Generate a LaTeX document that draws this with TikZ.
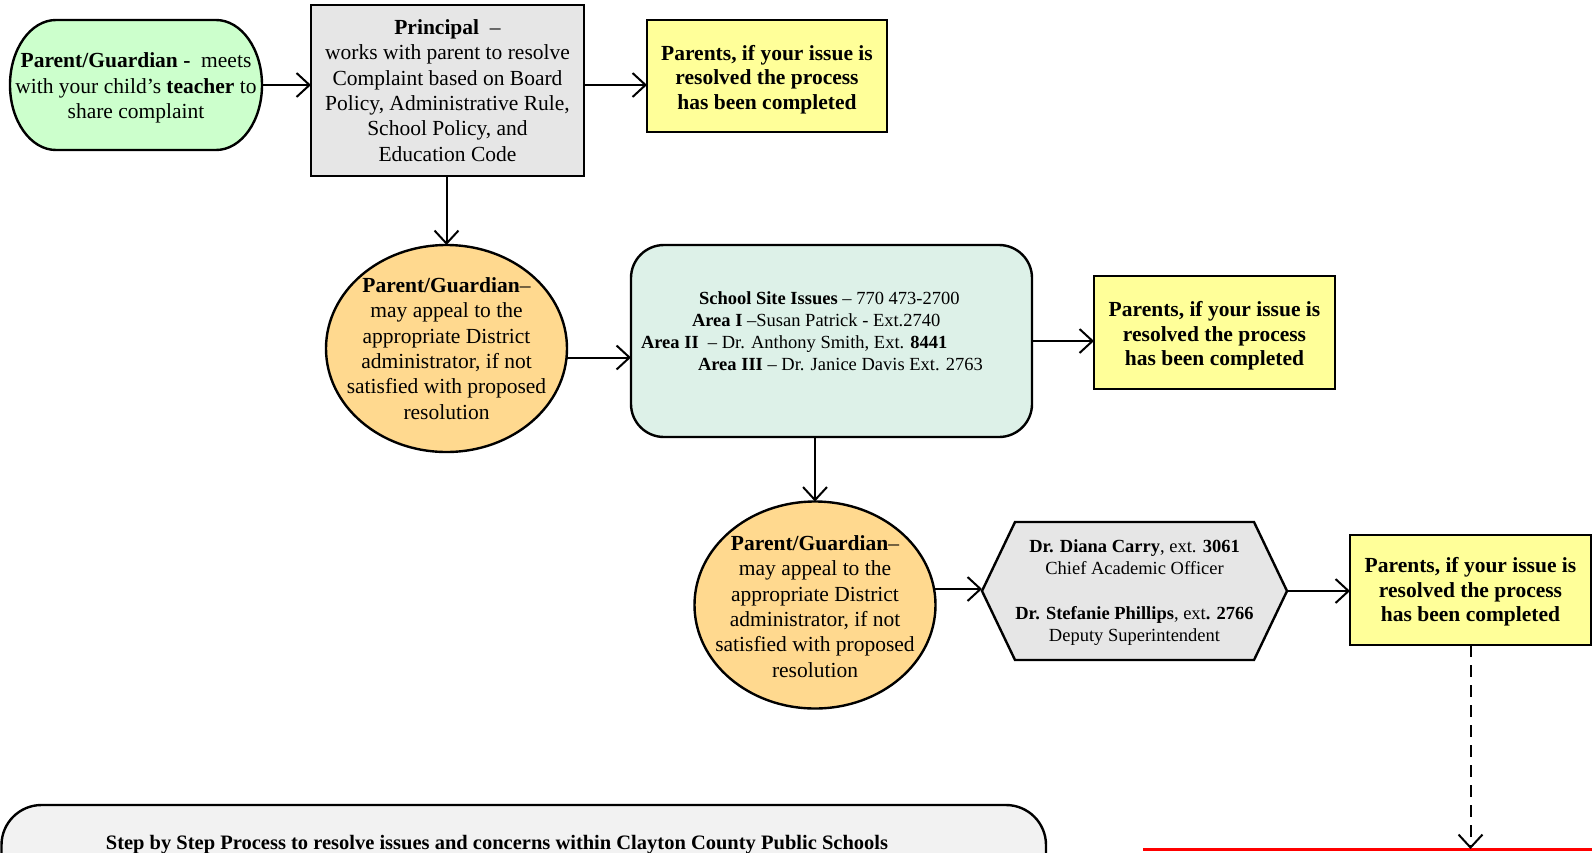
\documentclass[tikz,border=0pt]{standalone}
\usepackage{fontspec}
\setmainfont{Liberation Serif}
\usetikzlibrary{arrows.meta,calc,shapes.geometric,backgrounds}
\definecolor{gfill}{HTML}{CCFFCC}
\definecolor{pfill}{HTML}{E6E6E6}
\definecolor{yfill}{HTML}{FFFF99}
\definecolor{ofill}{HTML}{FFD98F}
\definecolor{tfill}{HTML}{DDF1E8}
\definecolor{bfill}{HTML}{F2F2F2}
\definecolor{redline}{HTML}{FF0000}
\newcommand{\ydown}{\rule{0pt}{22pt}}
\begin{document}
\begin{tikzpicture}[x=1pt,y=-1pt,
  every node/.style={inner sep=0pt, outer sep=0pt},
  border/.style={draw=black, line width=2.4pt},
  mainfont/.style={font=\fontsize{21.5}{25.3}\selectfont, align=center},
  yfont/.style={font=\fontsize{21.5}{24.4}\selectfont\bfseries, align=center},
  smallfont/.style={font=\fontsize{18.5}{22}\selectfont},
  ybox/.style={border, fill=yfill, minimum width=240pt, minimum height=112pt, yfont},
  oval/.style={ellipse, border, fill=ofill, minimum width=241pt, minimum height=207pt},
  arr/.style={line width=2pt, -{Straight Barb[length=13pt,width=24pt,line width=2pt]}},
  dasharr/.style={arr, dash pattern=on 12pt off 8pt},
]
\useasboundingbox (0,0) rectangle (1592,852);
\clip (0,0) rectangle (1592,852);

% green start
\node[minimum width=252pt, minimum height=130pt] (g) at (136,85) {};
\node[mainfont] (gt) at (136,88)
  {\textbf{Parent/Guardian -}\ \ meets\\with your child’s \textbf{teacher} to\\share complaint};
\begin{scope}[on background layer]
\draw[border, fill=gfill] ($(g.north west)+(46,0)$) -- ($(g.north east)+(-46,0)$)
  arc[start angle=90, end angle=-90, x radius=46pt, y radius=65pt]
  -- ($(g.south west)+(46,0)$)
  arc[start angle=270, end angle=90, x radius=46pt, y radius=65pt] -- cycle;
\end{scope}

% principal
\node[border, fill=pfill, minimum width=273pt, minimum height=171pt, mainfont] (p) at (447.5,90.5)
  {\textbf{Principal}\ \ –\\works with parent to resolve\\Complaint based on Board\\Policy, Administrative Rule,\\School Policy, and\\Education Code};

% yellow boxes
\node[ybox] (y1) at (767,76) {\ydown Parents, if your issue is\\resolved the process\\has been completed};
\node[ybox, minimum width=241pt, minimum height=113pt] (y2) at (1214.5,332.5) {\ydown Parents, if your issue is\\resolved the process\\has been completed};
\node[ybox, minimum width=241pt, minimum height=110pt] (y3) at (1470.5,590) {\rule{0pt}{19pt}Parents, if your issue is\\resolved the process\\has been completed};

% ellipses
\node[oval] (e1) at (446.5,348.5) {};
\node[mainfont] (e1t) at (e1.center) {\textbf{Parent/Guardian}–\\may appeal to the\\appropriate District\\administrator, if not\\satisfied with proposed\\resolution};
\node[oval] (e2) at (815,605) {};
\node[mainfont] (e2t) at ($(e2.center)+(0,1.5)$) {\textbf{Parent/Guardian}–\\may appeal to the\\appropriate District\\administrator, if not\\satisfied with proposed\\resolution};

% teal box
\node[border, fill=tfill, rounded corners=33pt, minimum width=401pt, minimum height=192pt] (t) at (831.5,341) {};
\node[smallfont, align=left, anchor=west] (tt) at (641,331)
  {\hspace*{58pt}\textbf{School Site Issues} – 770 473-2700\\
   \hspace*{51pt}\textbf{Area I} –Susan Patrick - Ext.2740\\
   \textbf{Area II}\ \ – Dr. Anthony Smith, Ext. \textbf{8441}\\
   \hspace*{57pt}\textbf{Area III} – Dr. Janice Davis Ext. 2763};

% hexagon
\node[minimum width=305pt, minimum height=138pt] (hex) at (1134.5,591) {};
\node[smallfont, align=center] (hext) at (1134.5,593)
  {\textbf{Dr. Diana Carry}, ext. \textbf{3061}\\Chief Academic Officer\\[23pt]
   \textbf{Dr. Stefanie Phillips}, ext\textbf{. 2766}\\Deputy Superintendent};
\begin{scope}[on background layer]
\draw[border, fill=pfill] (hex.west) -- ($(hex.north west)+(33,0)$) -- ($(hex.north east)+(-33,0)$)
  -- (hex.east) -- ($(hex.south east)+(-33,0)$) -- ($(hex.south west)+(33,0)$) -- cycle;
\end{scope}

% bottom box
\draw[border, fill=bfill, rounded corners=40pt] (1.5,805) rectangle (1046,920);
\node[font=\fontsize{20.5}{24}\selectfont\bfseries] (bt) at (497,845)
  {Step by Step Process to resolve issues and concerns within Clayton County Public Schools};

% red line
\coordinate (rl) at (1143,849);
\coordinate (rr) at (1600,849);
\draw[redline, line width=3pt] (rl) -- (rr);

% connectors
\draw[arr] (g.east) -- (p.west |- g.east);
\draw[arr] (p.east |- g.east) -- (y1.west |- g.east);
\draw[arr] (e1.north |- p.south) -- (e1.north);
\coordinate (a1) at ($(e1.east)+(-0.5,9)$);
\draw[arr] (a1) -- (t.west |- a1);
\draw[arr] (t.east) -- (y2.west |- t.east);
\draw[arr] (e2.north |- t.south) -- (e2.north);
\coordinate (a2) at ($(e2.east)+(-1.5,-16)$);
\draw[arr] (a2) -- (hex.west |- a2);
\draw[arr] (hex.east) -- (y3.west |- hex.east);
\draw[dasharr] (y3.south) -- (y3.south |- rl);
\end{tikzpicture}
\end{document}
